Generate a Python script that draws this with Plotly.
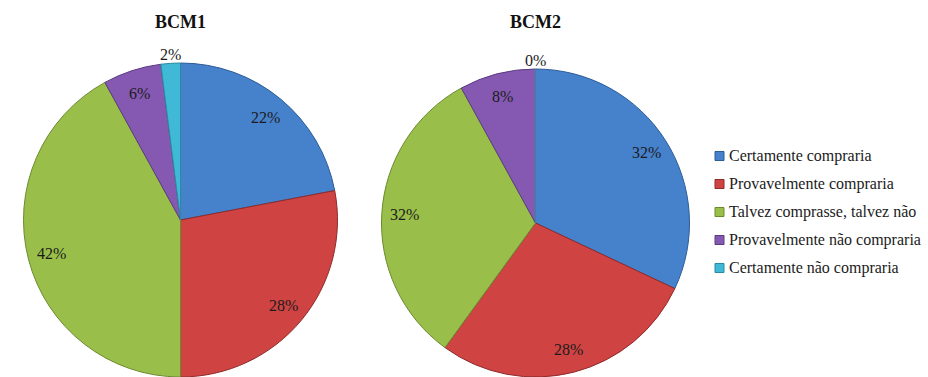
import numpy as np
import plotly.graph_objects as go

# Purchase-intention survey results for two products
CATEGORIES = [
    "Certamente compraria",
    "Provavelmente compraria",
    "Talvez comprasse, talvez não",
    "Provavelmente não compraria",
    "Certamente não compraria",
]
BCM1_VALUES = [22, 28, 42, 6, 2]
BCM2_VALUES = [32, 28, 32, 8, 0]
CHART_TITLES = ["BCM1", "BCM2"]

COLORS = ["#4681CC", "#CF4343", "#99BF4A", "#8559B2", "#3FB9D5"]
EDGE_COLORS = ["#2D5C96", "#8E2B2B", "#6B8A2F", "#5C3C80", "#2A8AA0"]

W, H = 928, 377
SERIF = "Liberation Serif"
TEXT_COLOR = "#1b1b1b"

# pixel geometry of each pie: centre x, centre y, radius
PIES = [
    dict(cx=180.5, cy=220.0, r=157.0, values=BCM1_VALUES, title=CHART_TITLES[0]),
    dict(cx=535.5, cy=223.0, r=154.0, values=BCM2_VALUES, title=CHART_TITLES[1]),
]

fig = go.Figure()
annotations = []
shapes = []

for pie in PIES:
    cx, cy, r = pie["cx"], pie["cy"], pie["r"]
    fig.add_trace(go.Pie(
        labels=CATEGORIES,
        values=pie["values"],
        sort=False,
        direction="clockwise",
        rotation=0,
        textinfo="none",
        hoverinfo="label+percent",
        showlegend=False,
        marker=dict(colors=COLORS, line=dict(color=EDGE_COLORS, width=1)),
        domain=dict(
            x=[(cx - r - 2) / W, (cx + r + 2) / W],
            y=[(H - cy - r) / H, (H - cy + r) / H],
        ),
    ))

    # percentage labels placed at the middle angle of each slice
    total = float(sum(pie["values"]))
    cum = np.cumsum([0] + pie["values"][:-1])
    for v, c in zip(pie["values"], cum):
        mid = 2 * np.pi * (c + v / 2.0) / total
        dist = r * 0.85 if v >= 3 else r + 9
        px = cx + dist * np.sin(mid)
        py = cy - dist * np.cos(mid)
        annotations.append(dict(
            x=px / W, y=1 - py / H, xref="paper", yref="paper",
            text=f"{v}%", showarrow=False,
            xanchor="center", yanchor="middle",
            font=dict(family=SERIF, size=16, color=TEXT_COLOR),
        ))

    annotations.append(dict(
        x=cx / W, y=1 - 22 / H, xref="paper", yref="paper",
        text=f"<b>{pie['title']}</b>", showarrow=False,
        xanchor="center", yanchor="middle",
        font=dict(family=SERIF, size=18, color="#111111"),
    ))

# legend drawn as colour squares with labels
for i, (name, col, edge) in enumerate(zip(CATEGORIES, COLORS, EDGE_COLORS)):
    y_px = 156 + 28 * i
    shapes.append(dict(
        type="rect", xref="paper", yref="paper",
        x0=715 / W, x1=724 / W, y0=1 - (y_px + 4.5) / H, y1=1 - (y_px - 4.5) / H,
        fillcolor=col, line=dict(color=edge, width=1),
    ))
    annotations.append(dict(
        x=727 / W, y=1 - y_px / H, xref="paper", yref="paper",
        text=name, showarrow=False, xanchor="left", yanchor="middle",
        font=dict(family=SERIF, size=16, color=TEXT_COLOR),
    ))

fig.update_layout(
    width=W, height=H,
    margin=dict(l=0, r=0, t=0, b=0),
    paper_bgcolor="white",
    plot_bgcolor="white",
    annotations=annotations,
    shapes=shapes,
)

fig.write_html("out.html")
